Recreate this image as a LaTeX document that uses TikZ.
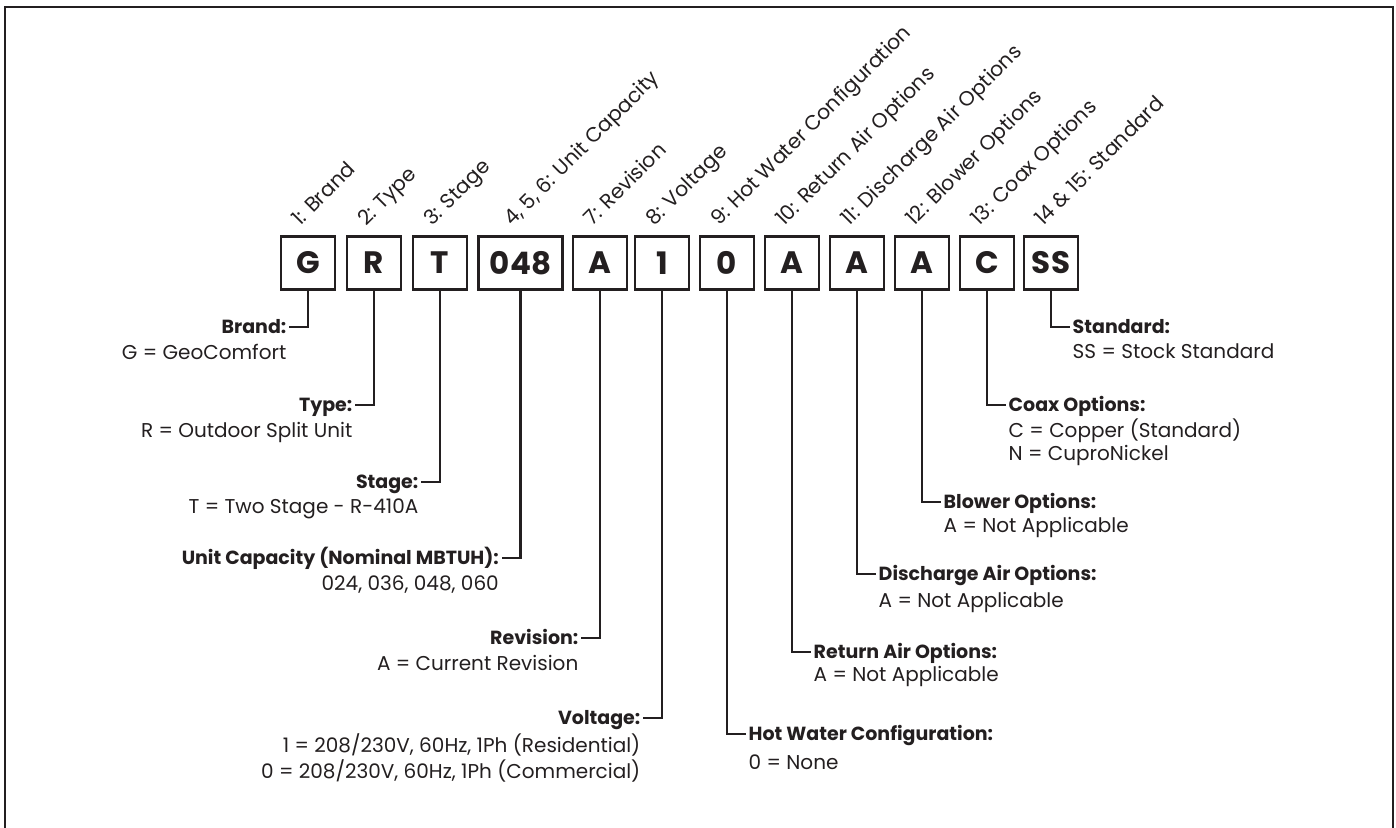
\documentclass[tikz,border=0pt]{standalone}
\usepackage{fontspec}
\setmainfont{Poppins}
\definecolor{ink}{HTML}{231F20}
\begin{document}
\begin{tikzpicture}[x=1pt,y=-1pt,
  every node/.style={text=ink},
  box/.style={draw=ink, line width=2.8pt, minimum width=54pt, minimum height=53pt, inner sep=0pt, font=\bfseries\fontsize{31}{31}\selectfont},
  wbox/.style={box, minimum width=84pt},
  lhead/.style={font=\bfseries\fontsize{19}{22}\selectfont, inner xsep=2.5pt, inner ysep=0pt, text height=13pt, text depth=0pt, anchor=east},
  rhead/.style={lhead, anchor=west},
  lval/.style={font=\fontsize{20}{22}\selectfont, inner xsep=2.5pt, inner ysep=0pt, anchor=base east},
  rval/.style={lval, anchor=base west},
  code/.style={font=\fontsize{20.5}{22}\selectfont, rotate=45, anchor=base west, inner sep=0pt},
  stem/.style={draw=ink, line width=2.8pt}]
\useasboundingbox (0,0) rectangle (1396,827);
\draw[draw=ink, line width=2pt] (4.5,850) -- (4.5,6.5) -- (1392.5,6.5) -- (1392.5,850);

% code boxes
\node[box]  (bG)   at (308,263)   {G};
\node[box]  (bR)   at (374,263)   {R};
\node[box]  (bT)   at (440,263)   {T};
\node[wbox] (bCap) at (520.5,263) {048};
\node[box]  (bRev) at (600,263)   {A};
\node[box]  (bV)   at (662,263)   {1};
\node[box]  (bHW)  at (727,263)   {0};
\node[box]  (bRA)  at (792,263)   {A};
\node[box]  (bDA)  at (857,263)   {A};
\node[box]  (bBl)  at (922,263)   {A};
\node[box]  (bCx)  at (987,263)   {C};
\node[box]  (bSS)  at (1051,263)  {SS};

% rotated position labels
\node[code] (pG)   at (300,227)   {1: Brand};
\node[code] (pR)   at (366,227)   {2: Type};
\node[code] (pT)   at (432,227)   {3: Stage};
\node[code] (pCap) at (512.5,227) {4, 5, 6: Unit Capacity};
\node[code] (pRev) at (592,227)   {7: Revision};
\node[code] (pV)   at (654,227)   {8: Voltage};
\node[code] (pHW)  at (719,227)   {9: Hot Water Configuration};
\node[code] (pRA)  at (784,227)   {10: Return Air Options};
\node[code] (pDA)  at (849,227)   {11: Discharge Air Options};
\node[code] (pBl)  at (914,227)   {12: Blower Options};
\node[code] (pCx)  at (979,227)   {13: Coax Options};
\node[code] (pSS)  at (1043,227)  {14 \& 15: Standard};

% left descriptions
\node[lhead] (hG)   at (289,327)   {Brand:};
\node[lval]  (vG)   at (289,359)   {G = GeoComfort};
\node[lhead] (hR)   at (355,405)   {Type:};
\node[lval]  (vR)   at (355,437)   {R = Outdoor Split Unit};
\node[lhead] (hT)   at (421,482)   {Stage:};
\node[lval]  (vT)   at (421,513)   {T = Two Stage - R-410A};
\node[lhead] (hCap) at (501.5,558) {Unit Capacity (Nominal MBTUH):};
\node[lval]  (vCap) at (501.5,590) {024, 036, 048, 060};
\node[lhead] (hRev) at (581,638)   {Revision:};
\node[lval]  (vRev) at (581,670)   {A = Current Revision};
\node[lhead] (hV)   at (643,718)   {Voltage:};
\node[lval]  (vV1)  at (643,752)   {1 = 208/230V, 60Hz, 1Ph (Residential)};
\node[lval]  (vV2)  at (643,778)   {0 = 208/230V, 60Hz, 1Ph (Commercial)};

% right descriptions
\node[rhead] (hSS)  at (1070,327)  {Standard:};
\node[rval]  (vSS)  at (1070,358)  {SS = Stock Standard};
\node[rhead] (hCx)  at (1006,405)  {Coax Options:};
\node[rval]  (vCx1) at (1006,437)  {C = Copper (Standard)};
\node[rval]  (vCx2) at (1006,460)  {N = CuproNickel};
\node[rhead] (hBl)  at (941,502)   {Blower Options:};
\node[rval]  (vBl)  at (941,532)   {A = Not Applicable};
\node[rhead] (hDA)  at (876,574)   {Discharge Air Options:};
\node[rval]  (vDA)  at (876,607)   {A = Not Applicable};
\node[rhead] (hRA)  at (811,652)   {Return Air Options:};
\node[rval]  (vRA)  at (811,681)   {A = Not Applicable};
\node[rhead] (hHW)  at (746,734)   {Hot Water Configuration:};
\node[rval]  (vHW)  at (746,769)   {0 = None};

% connectors
\draw[stem] (bG.south)   |- (hG.east);
\draw[stem] (bR.south)   |- (hR.east);
\draw[stem] (bT.south)   |- (hT.east);
\draw[stem] (bCap.south) |- (hCap.east);
\draw[stem] (bRev.south) |- (hRev.east);
\draw[stem] (bV.south)   |- (hV.east);
\draw[stem] (bHW.south)  |- (hHW.west);
\draw[stem] (bRA.south)  |- (hRA.west);
\draw[stem] (bDA.south)  |- (hDA.west);
\draw[stem] (bBl.south)  |- (hBl.west);
\draw[stem] (bCx.south)  |- (hCx.west);
\draw[stem] (bSS.south)  |- (hSS.west);
\end{tikzpicture}
\end{document}
